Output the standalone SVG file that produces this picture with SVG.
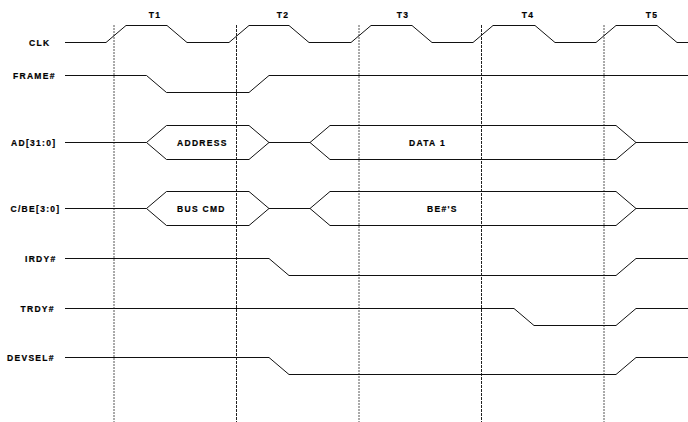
<svg xmlns="http://www.w3.org/2000/svg" width="688" height="422" viewBox="0 0 688 422">
<style>
text{font-family:"Liberation Sans",Arial,sans-serif;font-weight:bold;font-size:8.5px;letter-spacing:1.3px;fill:#000;stroke:#000;stroke-width:0.2px}
.w{fill:none;stroke:#111;stroke-width:1}
.g{stroke:#555;stroke-width:1;stroke-dasharray:2 1}
.k{stroke:#222;stroke-width:1;stroke-dasharray:3 1}
</style>
<rect width="688" height="422" fill="#fff"/>
<g id="grid">
<line class="g" x1="114" y1="25" x2="114" y2="422"/>
<line class="k" x1="236.5" y1="25" x2="236.5" y2="422"/>
<line class="g" x1="359" y1="25" x2="359" y2="422"/>
<line class="k" x1="481.5" y1="25" x2="481.5" y2="422"/>
<line class="g" x1="604" y1="25" x2="604" y2="422"/>
</g>
<g id="clock-labels">
<text x="155" y="18" text-anchor="middle">T1</text>
<text x="283" y="18" text-anchor="middle">T2</text>
<text x="403" y="18" text-anchor="middle">T3</text>
<text x="528" y="18" text-anchor="middle">T4</text>
<text x="652" y="18" text-anchor="middle">T5</text>
</g>
<g id="clk">
<text x="29" y="45.5">CLK</text>
<polyline class="w" points="65,42.5 106,42.5 126,25.5 167,25.5 187,42.5 229,42.5 249,25.5 289,25.5 309,42.5 351,42.5 371,25.5 412,25.5 432,42.5 473,42.5 493,25.5 535,25.5 555,42.5 596,42.5 616,25.5 657,25.5 677,42.5 688,42.5"/>
</g>
<g id="frame">
<text x="13" y="78.5">FRAME#</text>
<polyline class="w" points="65,75.5 146.5,75.5 166.5,92.5 249,92.5 269,75.5 688,75.5"/>
</g>
<g id="ad">
<text x="11" y="145.5">AD[31:0]</text>
<polyline class="w" points="65,142.5 146.5,142.5"/>
<polygon class="w" points="146.5,142.5 166.5,125.5 249,125.5 269,142.5 249,159.5 166.5,159.5"/>
<text x="177" y="145.5">ADDRESS</text>
<polyline class="w" points="269,142.5 310,142.5"/>
<polygon class="w" points="310,142.5 330,125.5 616,125.5 636,142.5 616,159.5 330,159.5"/>
<text x="409" y="145.5">DATA 1</text>
<polyline class="w" points="636,142.5 688,142.5"/>
</g>
<g id="cbe">
<text x="10.5" y="211.5">C/BE[3:0]</text>
<polyline class="w" points="65,208.5 146.5,208.5"/>
<polygon class="w" points="146.5,208.5 166.5,191.5 249,191.5 269,208.5 249,225.5 166.5,225.5"/>
<text x="177" y="211.5">BUS CMD</text>
<polyline class="w" points="269,208.5 310,208.5"/>
<polygon class="w" points="310,208.5 330,191.5 616,191.5 636,208.5 616,225.5 330,225.5"/>
<text x="427" y="211.5">BE#'S</text>
<polyline class="w" points="636,208.5 688,208.5"/>
</g>
<g id="irdy">
<text x="25" y="261.5">IRDY#</text>
<polyline class="w" points="65,258.5 269,258.5 289,275.5 616,275.5 636,258.5 688,258.5"/>
</g>
<g id="trdy">
<text x="20.5" y="311.5">TRDY#</text>
<polyline class="w" points="65,308.5 514,308.5 534,325.5 616,325.5 636,308.5 688,308.5"/>
</g>
<g id="devsel">
<text x="7" y="360.5">DEVSEL#</text>
<polyline class="w" points="65,357.5 269,357.5 289,374.5 616,374.5 636,357.5 688,357.5"/>
</g>
</svg>
